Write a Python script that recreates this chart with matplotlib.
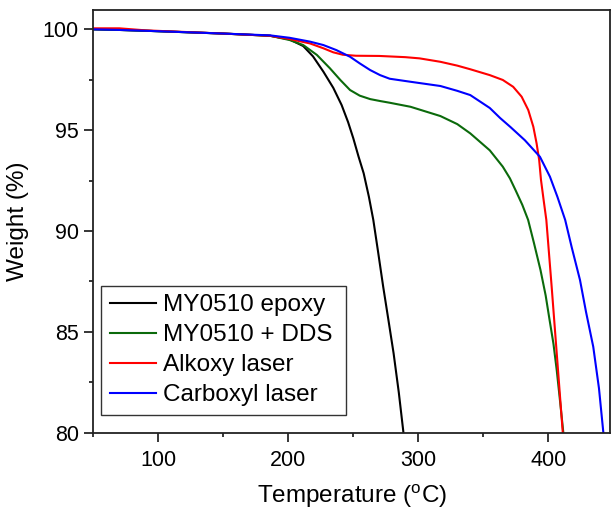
import matplotlib
matplotlib.use("Agg")
import matplotlib.pyplot as plt
from matplotlib.ticker import MultipleLocator

plt.rcParams['font.family'] = 'Liberation Sans'
plt.rcParams['mathtext.fontset'] = 'custom'
plt.rcParams['mathtext.rm'] = 'Liberation Sans'

# TGA curves (temperature in C, weight in %)
epoxy_t = [50, 70, 94, 120, 150, 186, 201, 211.5, 219, 227, 234.6, 241, 246, 250, 254, 258, 262,
           265.4, 269, 273, 277, 281, 285, 288.5, 289]
epoxy_w = [100.0, 99.97, 99.92, 99.86, 99.79, 99.68, 99.5, 99.17, 98.66, 97.9, 97.1, 96.25, 95.4, 94.6,
           93.7, 92.86, 91.7, 90.55, 89.0, 87.24, 85.6, 83.94, 82.0, 80.05, 79.5]

dds_t = [50, 70, 94, 120, 150, 186, 201, 211.5, 222, 232, 240, 247.5, 255, 263, 271, 278, 294, 317,
         330, 340, 355, 365, 370.5, 375, 380, 384.5, 389, 394, 398, 401, 404, 406.5, 409, 411.5, 412]
dds_w = [100.0, 99.97, 99.92, 99.86, 99.79, 99.68, 99.47, 99.22, 98.73, 98.07, 97.49, 96.99, 96.71,
         96.54, 96.44, 96.36, 96.16, 95.7, 95.3, 94.84, 94.0, 93.19, 92.61, 92.0, 91.3, 90.55, 89.4,
         88.07, 86.8, 85.59, 84.4, 83.1, 81.6, 80.05, 79.7]

alkoxy_t = [50, 70, 90, 120, 150, 186, 201, 216.7, 227, 234.6, 242, 252, 270, 290, 301, 317, 330, 340,
            355, 365, 373, 379.5, 384.6, 388.5, 391, 393, 394.4, 396.5, 398.5, 402.6, 406.5, 411.1, 411.5]
alkoxy_w = [100.05, 100.05, 99.95, 99.87, 99.79, 99.68, 99.52, 99.3, 99.06, 98.86, 98.74, 98.69, 98.68,
            98.62, 98.56, 98.39, 98.2, 98.02, 97.73, 97.49, 97.15, 96.66, 96.0, 95.17, 94.35, 93.52,
            92.53, 91.5, 90.55, 87.24, 83.94, 80.05, 79.7]

carboxyl_t = [50, 70, 94, 120, 150, 186, 201, 216.7, 227, 237, 247.5, 255, 263, 270.6, 278, 294, 317,
              330, 340, 355, 363, 371, 382, 393.6, 401.3, 407, 413, 418, 424.4, 429, 434.6, 439, 442.3, 443]
carboxyl_w = [100.0, 99.97, 99.92, 99.86, 99.79, 99.7, 99.58, 99.39, 99.22, 98.97, 98.64, 98.31, 97.98,
              97.73, 97.55, 97.4, 97.19, 96.95, 96.74, 96.1, 95.6, 95.15, 94.5, 93.68, 92.69, 91.7,
              90.55, 89.2, 87.57, 86.0, 84.26, 82.2, 80.05, 79.7]

labels = ['MY0510 epoxy', 'MY0510 + DDS', 'Alkoxy laser', 'Carboxyl laser']
colors = ['#000000', '#0b6a0b', '#ff0000', '#0000ff']

fig = plt.figure(figsize=(6.11, 5.19), dpi=100)
ax = fig.add_axes([0.1527, 0.1663, 0.8457, 0.8145])

series = [(epoxy_t, epoxy_w), (dds_t, dds_w), (alkoxy_t, alkoxy_w), (carboxyl_t, carboxyl_w)]
for (t, w), lab, c in zip(series, labels, colors):
    ax.plot(t, w, color=c, lw=1.5, label=lab, solid_joinstyle='round')

ax.set_xlim(50, 447.5)
ax.set_ylim(80, 100.96)
ax.xaxis.set_major_locator(MultipleLocator(100))
ax.xaxis.set_minor_locator(MultipleLocator(50))
ax.yaxis.set_major_locator(MultipleLocator(5))
ax.yaxis.set_minor_locator(MultipleLocator(2.5))
ax.tick_params(which='major', direction='out', length=6.5, width=1.1, labelsize=15.5, pad=4)
ax.tick_params(which='minor', direction='out', length=3, width=1.1)
ax.tick_params(axis='x', which='major', pad=6)
for s in ax.spines.values():
    s.set_linewidth(1.3)
    s.set_color('#222222')

ax.set_xlabel('Temperature ($^{\\mathrm{o}}$C)', fontsize=17.5, labelpad=8)
ax.set_ylabel('Weight (%)', fontsize=17.5, labelpad=10)

leg = ax.legend(loc='lower left', bbox_to_anchor=(0.015, 0.042, 0.474, 0.3), mode='expand',
                borderaxespad=0, fontsize=17.5, frameon=True, fancybox=False,
                edgecolor='black', handlelength=1.9, handletextpad=0.3,
                labelspacing=0.33, borderpad=0.35)
leg.get_frame().set_linewidth(1.0)

fig.savefig('out.png', dpi=100)
